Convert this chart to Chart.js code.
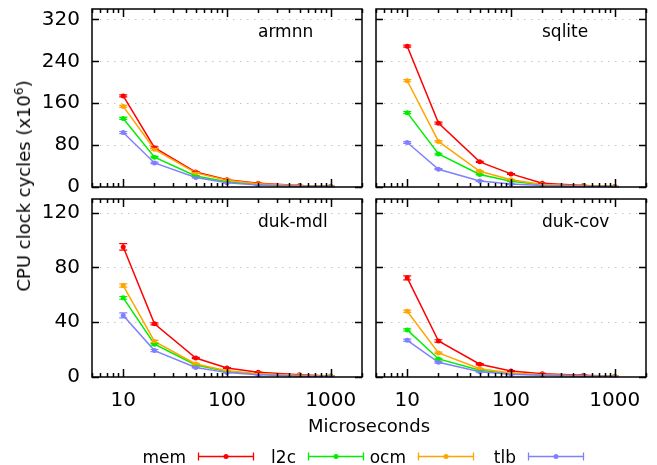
<!DOCTYPE html>
<html>
<head>
<meta charset="utf-8">
<script src="https://cdn.jsdelivr.net/npm/chart.js@4.4.1/dist/chart.umd.min.js"></script>
<style>
body{margin:0;width:657px;height:465px;position:relative;background:#fff;overflow:hidden;font-family:"DejaVu Sans",sans-serif;color:#000}
canvas{position:absolute;left:0;top:0}
.t{position:absolute;white-space:nowrap;line-height:1}
</style>
</head>
<body>
<canvas id="c1" width="657" height="465"></canvas>
<canvas id="c2" width="657" height="465"></canvas>
<canvas id="c3" width="657" height="465"></canvas>
<canvas id="c4" width="657" height="465"></canvas>

<div class="t" id="ytitle" style="font-size:18px;left:23px;top:186px;transform:translate(-50%,-50%) rotate(-90deg)">CPU clock cycles (x10<sup style="font-size:12px;vertical-align:7px">6</sup>)</div>
<div class="t" style="font-size:18px;left:369px;top:417px;transform:translateX(-50%)">Microseconds</div>
<div id="legend"></div>

<script>
// x positions (microseconds)
const xValues = [10, 20, 50, 100, 200, 500, 1000];
const xTickLabels = [10, 100, 1000];
const seriesNames = ['mem', 'l2c', 'ocm', 'tlb'];
const seriesColors = ['#ff0000', '#00ee00', '#ffa500', '#8080ff'];

// armnn
const armnnMem = [174, 75, 28.5, 14, 7, 3, 1.5];
const armnnL2c = [131, 57, 21, 10, 5, 2, 1];
const armnnOcm = [154, 72, 27, 13, 6, 2.5, 1];
const armnnTlb = [104, 46, 18, 8, 4, 1.5, 0.8];
// sqlite
const sqliteMem = [269, 122, 48, 25, 7, 3, 1];
const sqliteL2c = [142, 63, 24, 11, 4.5, 2, 0.8];
const sqliteOcm = [203, 87, 30, 14, 5, 2, 1];
const sqliteTlb = [85, 34, 11.5, 5.7, 3, 1.3, 0.6];
// duk-mdl
const dukMdlMem = [95, 38.8, 13.9, 6.6, 3.4, 1.7, 0.7];
const dukMdlL2c = [57.8, 23.9, 8.8, 4.1, 2.2, 1, 0.5];
const dukMdlOcm = [66.8, 26, 9.5, 4.6, 2.4, 1.2, 0.5];
const dukMdlTlb = [45, 19.3, 7, 3.2, 1.7, 0.8, 0.4];
// duk-cov
const dukCovMem = [72.4, 26.3, 9.3, 4.4, 2.4, 1.2, 0.5];
const dukCovL2c = [34.4, 13.2, 4.9, 2.4, 1.5, 0.7, 0.4];
const dukCovOcm = [48, 17.6, 6.1, 2.9, 1.7, 1, 0.5];
const dukCovTlb = [26.8, 10.7, 3.9, 2, 1.2, 0.7, 0.3];

// error bar half-widths
const armnnErr = [[2, 1.5, 1, 0.5, 0.3, 0.2, 0.1], [2, 1.5, 0.8, 0.5, 0.3, 0.2, 0.1], [2, 1.5, 0.8, 0.5, 0.3, 0.2, 0.1], [2, 1.5, 0.8, 0.5, 0.3, 0.2, 0.1]];
const sqliteErr = [[2, 2, 1, 0.8, 0.4, 0.2, 0.1], [2, 1.5, 0.8, 0.5, 0.3, 0.2, 0.1], [2, 1.5, 0.8, 0.5, 0.3, 0.2, 0.1], [1.5, 1, 0.6, 0.4, 0.2, 0.1, 0.1]];
const dukMdlErr = [[2.4, 0.8, 0.5, 0.3, 0.2, 0.1, 0.1], [1, 0.6, 0.3, 0.2, 0.1, 0.1, 0.1], [1.2, 0.8, 0.4, 0.2, 0.1, 0.1, 0.1], [1.8, 0.8, 0.4, 0.2, 0.1, 0.1, 0.1]];
const dukCovErr = [[1.5, 0.9, 0.5, 0.3, 0.2, 0.1, 0.1], [0.8, 0.5, 0.3, 0.2, 0.1, 0.1, 0.1], [0.8, 0.5, 0.3, 0.2, 0.1, 0.1, 0.1], [0.8, 0.5, 0.3, 0.2, 0.1, 0.1, 0.1]];

const topTicks = [0, 80, 160, 240, 320];
const bottomTicks = [0, 40, 80, 120];

const W = 657, H = 465;
const FONT = 'DejaVu Sans';

// minor log ticks 6..9, 20..90, 200..900, 2000
const minorTicks = [];
for (let d = 1; d <= 1000; d *= 10) {
  for (let k = 2; k <= 9; k++) {
    const v = k * d;
    if (v >= 5 && v <= 2000 && v !== 10 && v !== 100 && v !== 1000) minorTicks.push(v);
  }
}
minorTicks.push(2000);

const gnuplotLook = {
  id: 'gnuplotLook',
  beforeDatasetsDraw(chart) {
    const {ctx, chartArea: a, scales: {y}} = chart;
    ctx.save();
    ctx.strokeStyle = '#c4c4c4';
    ctx.lineWidth = 1;
    ctx.setLineDash([1.5, 5.5]);
    y.ticks.forEach(t => {
      const py = Math.round(y.getPixelForValue(t.value)) + 0.5;
      if (py > a.top + 2 && py < a.bottom - 2) {
        ctx.beginPath();
        ctx.moveTo(a.left + 8, py);
        ctx.lineTo(a.right - 8, py);
        ctx.stroke();
      }
    });
    ctx.restore();
  },
  afterDatasetsDraw(chart) {
    const {ctx, scales: {y}} = chart;
    const errs = chart.options.plugins.gnuplotLook.errors;
    ctx.save();
    chart.data.datasets.forEach((ds, i) => {
      const meta = chart.getDatasetMeta(i);
      ctx.strokeStyle = ds.borderColor;
      ctx.lineWidth = 1.2;
      ds.data.forEach((v, j) => {
        const e = errs[i][j];
        const px = meta.data[j].x;
        const y1 = y.getPixelForValue(v + e);
        const y2 = y.getPixelForValue(Math.max(0, v - e));
        ctx.beginPath();
        ctx.moveTo(px, y1); ctx.lineTo(px, y2);
        ctx.moveTo(px - 4, y1); ctx.lineTo(px + 4, y1);
        ctx.moveTo(px - 4, y2); ctx.lineTo(px + 4, y2);
        ctx.stroke();
      });
    });
    ctx.restore();
  },
  afterDraw(chart) {
    const {ctx, chartArea: a, scales: {x, y}} = chart;
    ctx.save();
    ctx.strokeStyle = '#000';
    ctx.lineWidth = 1.5;
    ctx.beginPath();
    // y ticks, left and right, inward
    y.ticks.forEach(t => {
      const py = Math.round(y.getPixelForValue(t.value)) + 0.5;
      ctx.moveTo(a.left, py); ctx.lineTo(a.left + 7, py);
      ctx.moveTo(a.right, py); ctx.lineTo(a.right - 7, py);
    });
    // x ticks top and bottom
    xTickLabels.forEach(v => {
      const px = Math.round(x.getPixelForValue(v)) + 0.5;
      ctx.moveTo(px, a.bottom); ctx.lineTo(px, a.bottom - 8);
      ctx.moveTo(px, a.top); ctx.lineTo(px, a.top + 8);
    });
    minorTicks.forEach(v => {
      const px = Math.round(x.getPixelForValue(v)) + 0.5;
      ctx.moveTo(px, a.bottom); ctx.lineTo(px, a.bottom - 4);
      ctx.moveTo(px, a.top); ctx.lineTo(px, a.top + 4);
    });
    ctx.stroke();
    ctx.strokeRect(a.left, a.top, a.right - a.left, a.bottom - a.top);
    ctx.restore();
  }
};

function noOverhang(s) {
  s.paddingTop = 0; s.paddingBottom = 0; s.paddingLeft = 0; s.paddingRight = 0;
}

function makePanel(id, title, series, errors, area, yMax, yTicks, showX, showY) {
  const yW = showY ? 60 : 0;
  const xH = showX ? 40 : 0;
  const datasets = series.map((vals, i) => ({
    label: seriesNames[i],
    data: vals,
    borderColor: seriesColors[i],
    backgroundColor: seriesColors[i],
    borderWidth: 1.5,
    pointRadius: 2.5,
    pointBorderWidth: 0,
    tension: 0,
    order: series.length - 1 - i
  }));
  new Chart(document.getElementById(id), {
    type: 'line',
    data: {labels: xValues, datasets},
    options: {
      responsive: false,
      animation: false,
      events: [],
      layout: {padding: {left: area.left - yW, right: W - area.right, top: area.top, bottom: H - area.bottom - xH}},
      scales: {
        x: {
          type: 'logarithmic',
          min: 5, max: 2000,
          grid: {display: false, drawTicks: false},
          border: {display: false},
          afterBuildTicks: s => { s.ticks = xTickLabels.map(v => ({value: v})); },
          afterFit: s => { s.height = xH; noOverhang(s); },
          ticks: {display: showX, autoSkip: false, maxRotation: 0, padding: 12, color: '#000', font: {family: FONT, size: 20}, callback: v => String(v)}
        },
        y: {
          min: 0, max: yMax,
          grid: {display: false, drawTicks: false},
          border: {display: false},
          afterBuildTicks: s => { s.ticks = yTicks.map(v => ({value: v})); },
          afterFit: s => { s.width = yW; noOverhang(s); },
          ticks: {display: showY, padding: 12, color: '#000', font: {family: FONT, size: 20}}
        }
      },
      plugins: {legend: {display: false}, tooltip: {enabled: false}, gnuplotLook: {errors}}
    },
    plugins: [gnuplotLook]
  });
  const lab = document.createElement('div');
  lab.className = 't';
  lab.style.cssText = `font-size:17px;left:${area.left + 166}px;top:${area.top + 14}px`;
  lab.textContent = title;
  document.body.appendChild(lab);
}

makePanel('c1', 'armnn', [armnnMem, armnnL2c, armnnOcm, armnnTlb], armnnErr, {left: 92, right: 362, top: 9, bottom: 187}, 340, topTicks, false, true);
makePanel('c2', 'sqlite', [sqliteMem, sqliteL2c, sqliteOcm, sqliteTlb], sqliteErr, {left: 376, right: 646, top: 9, bottom: 187}, 340, topTicks, false, false);
makePanel('c3', 'duk-mdl', [dukMdlMem, dukMdlL2c, dukMdlOcm, dukMdlTlb], dukMdlErr, {left: 92, right: 362, top: 199, bottom: 377}, 130, bottomTicks, true, true);
makePanel('c4', 'duk-cov', [dukCovMem, dukCovL2c, dukCovOcm, dukCovTlb], dukCovErr, {left: 376, right: 646, top: 199, bottom: 377}, 130, bottomTicks, true, false);

// legend: text right-aligned before an error-bar sample
const legend = document.getElementById('legend');
seriesNames.forEach((name, i) => {
  const x0 = 198 + i * 110;
  const txt = document.createElement('div');
  txt.className = 't';
  txt.style.cssText = `font-size:17px;right:${W - (x0 - 12)}px;top:448.6px`;
  txt.textContent = name;
  legend.appendChild(txt);
  const c = seriesColors[i];
  legend.insertAdjacentHTML('beforeend',
    `<svg style="position:absolute;left:${x0 - 1}px;top:450px" width="58" height="12">
      <path d="M1.5 6.5H56.5M1.5 2.5V10.5M56.5 2.5V10.5" stroke="${c}" stroke-width="1.3" fill="none"/>
      <circle cx="29" cy="6.5" r="2.5" fill="${c}"/>
    </svg>`);
});
</script>
</body>
</html>
